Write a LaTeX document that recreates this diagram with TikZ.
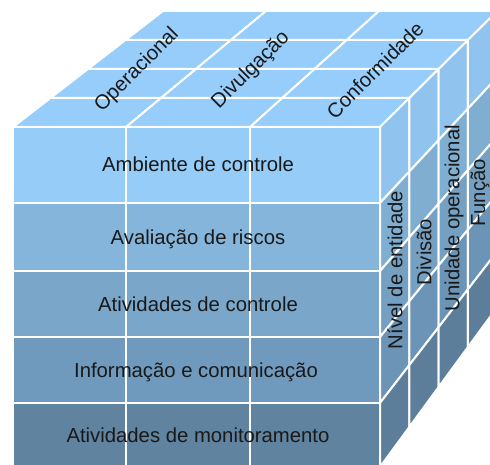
\documentclass[tikz,border=0pt]{standalone}
\usepackage{fontspec}
\setmainfont{Liberation Sans}
\definecolor{topc}{RGB}{150,205,250}
\definecolor{rowa}{RGB}{150,204,248}
\definecolor{rowb}{RGB}{133,181,218}
\definecolor{rowc}{RGB}{122,167,201}
\definecolor{rowd}{RGB}{111,154,190}
\definecolor{rowe}{RGB}{96,131,160}
\definecolor{txt}{RGB}{25,25,25}
\begin{document}
\begin{tikzpicture}[x=1pt,y=-1pt,
  cell/.style={draw=white,line width=2pt,line join=miter},
  lbl/.style={font=\fontsize{20.3}{24}\selectfont,text=txt,inner sep=0pt}]
\useasboundingbox (0,0) rectangle (490,465);
\clip (0,0) rectangle (490,465);
% top face grid points
\foreach \i/\u in {0/0,1/0.308,2/0.646,3/1}{
  \foreach \d in {0,...,4}{
    \coordinate (t\i-\d) at ({13+37.5*\d+\u*(367-8.17*\d)},{127-29*\d});
  }}
% right face grid points
\foreach \j/\v in {0/0,1/76,2/144,3/210,4/276,5/340}{
  \foreach \d in {0,...,4}{
    \coordinate (r\j-\d) at ({380+29.33*\d},{127-29*\d+\v/340*(340-11*\d)});
  }}
% front face grid points
\foreach \i/\x in {0/13,1/126,2/250,3/380}{
  \foreach \j/\y in {0/127,1/203,2/271,3/337,4/403,5/467}{
    \coordinate (f\i-\j) at (\x,\y);
  }}
% top face
\foreach \d [evaluate=\d as \e using int(\d+1)] in {0,...,3}{
  \foreach \i [evaluate=\i as \k using int(\i+1)] in {0,1,2}{
    \filldraw[cell,fill=topc] (t\i-\d) -- (t\k-\d) -- (t\k-\e) -- (t\i-\e) -- cycle;
  }}
% right face
\foreach \j/\col [evaluate=\j as \k using int(\j+1)] in {0/rowa,1/rowb,2/rowc,3/rowd,4/rowe}{
  \foreach \d [evaluate=\d as \e using int(\d+1)] in {0,...,3}{
    \filldraw[cell,fill=\col!96!black] (r\j-\d) -- (r\j-\e) -- (r\k-\e) -- (r\k-\d) -- cycle;
  }}
% front face
\foreach \j/\col [evaluate=\j as \k using int(\j+1)] in {0/rowa,1/rowb,2/rowc,3/rowd,4/rowe}{
  \foreach \i [evaluate=\i as \m using int(\i+1)] in {0,1,2}{
    \filldraw[cell,fill=\col] (f\i-\j) rectangle (f\m-\k);
  }}
% front labels
\node[lbl,anchor=base] (amb) at (198,172) {Ambiente de controle};
\node[lbl,anchor=base] (ava) at (198,244) {Avaliação de riscos};
\node[lbl,anchor=base] (ati) at (198,311) {Atividades de controle};
\node[lbl,anchor=base] (inf) at (196,377) {Informação e comunicação};
\node[lbl,anchor=base] (mon) at (198,442) {Atividades de monitoramento};
% top labels
\node[lbl,rotate=45] (ope) at (137,70) {Operacional};
\node[lbl,rotate=45] (div) at (251,70) {Divulgação};
\node[lbl,rotate=45] (con) at (375,70) {Conformidade};
% right labels
\node[lbl,rotate=90] (niv) at (395,270) {Nível de entidade};
\node[lbl,rotate=90] (dvs) at (424,252) {Divisão};
\node[lbl,rotate=90] (uni) at (454,218) {Unidade operacional};
\node[lbl,rotate=90] (fun) at (480,193) {Função};
\end{tikzpicture}
\end{document}
